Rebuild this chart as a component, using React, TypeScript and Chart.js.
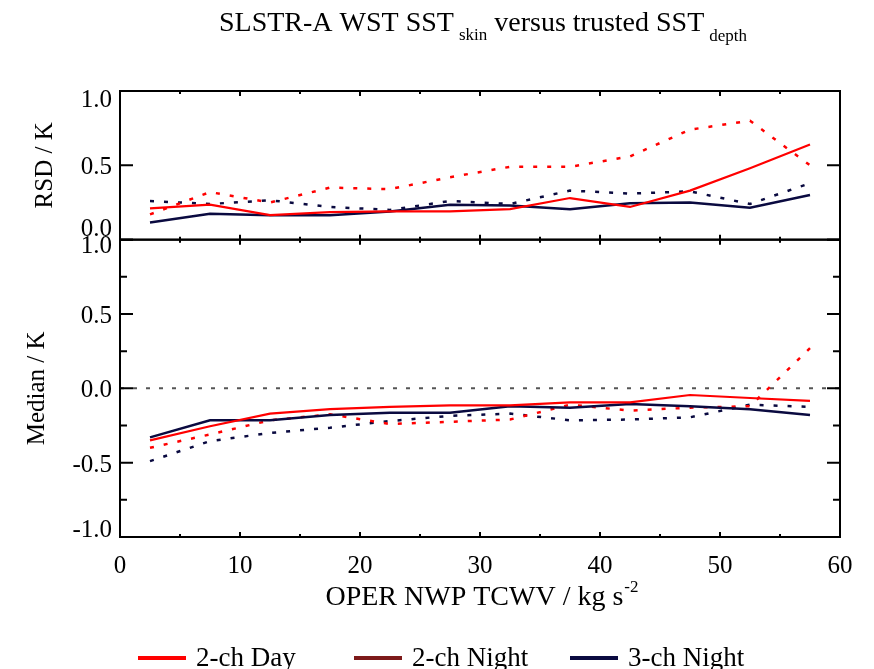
import React, { useEffect, useRef } from 'react';
import { Chart, registerables } from 'chart.js';

Chart.register(...registerables);

// ---------- data ----------
const tcwv = [2.5, 7.5, 12.5, 17.5, 22.5, 27.5, 32.5, 37.5, 42.5, 47.5, 52.5, 57.5];

// RSD panel
const rsdDay2 = [0.21, 0.235, 0.165, 0.185, 0.19, 0.19, 0.205, 0.28, 0.22, 0.33, 0.48, 0.64];
const rsdDay2Dotted = [0.17, 0.32, 0.25, 0.35, 0.34, 0.42, 0.49, 0.49, 0.56, 0.74, 0.8, 0.5];
const rsdNight3 = [0.115, 0.175, 0.165, 0.165, 0.19, 0.235, 0.23, 0.205, 0.245, 0.25, 0.215, 0.3];
const rsdNight3Dotted = [0.26, 0.24, 0.265, 0.22, 0.2, 0.26, 0.24, 0.33, 0.31, 0.325, 0.24, 0.38];

// Median panel
const medDay2 = [-0.35, -0.255, -0.17, -0.14, -0.125, -0.115, -0.115, -0.095, -0.095, -0.045, -0.065, -0.085];
const medDay2Dotted = [-0.4, -0.31, -0.215, -0.175, -0.24, -0.225, -0.21, -0.11, -0.15, -0.13, -0.12, 0.27];
const medNight3 = [-0.33, -0.215, -0.215, -0.18, -0.165, -0.165, -0.12, -0.13, -0.105, -0.12, -0.14, -0.18];
const medNight3Dotted = [-0.49, -0.355, -0.3, -0.265, -0.22, -0.185, -0.17, -0.215, -0.21, -0.195, -0.11, -0.125];

const zeroLineX = [0, 60];
const zeroLineY = [0, 0];

const xRange = [0, 60];
const rsdRange = [0, 1];
const medRange = [-1, 1];

const legendLabels = ['2-ch Day', '2-ch Night', '3-ch Night'];

const titleParts = ['SLSTR-A WST SST', 'skin', ' versus trusted SST', 'depth'];
const xTitleParts = ['OPER NWP TCWV / kg s', '-2'];

// ---------- styles ----------
const FONT = "'Liberation Serif', 'Times New Roman', serif";
const RED = '#ff0000';
const DARKRED = '#7d1a1a';
const NAVY = '#0a0a40';
const DOT = [4, 10];

const pts = (xs: number[], ys: number[]) => xs.map((x, i) => ({ x, y: ys[i] }));

// IDL-style nudges of the end tick labels (min, max) per panel
const labelNudge: Record<string, number[]> = { yTop: [-10, 9], yBot: [-7, 7] };

const framePlugin = {
  id: 'frameTicks',
  afterDatasetsDraw(chart: any) {
    const { ctx, chartArea: ca, scales } = chart;
    const xs = scales.x;
    ctx.save();
    ctx.strokeStyle = '#000';
    ctx.lineWidth = 2;
    ['yTop', 'yBot'].forEach((id) => {
      const ys = scales[id];
      ctx.strokeRect(ca.left, ys.top, ca.right - ca.left, ys.bottom - ys.top);
      ctx.beginPath();
      for (let v = xRange[0]; v <= xRange[1]; v += 5) {
        const px = xs.getPixelForValue(v);
        const len = v % 10 === 0 ? 5 : 3;
        ctx.moveTo(px, ys.top);
        ctx.lineTo(px, ys.top + len);
        ctx.moveTo(px, ys.bottom);
        ctx.lineTo(px, ys.bottom - len);
      }
      const step = id === 'yBot' ? 0.25 : 0.5;
      for (let v = ys.min; v <= ys.max + 1e-9; v += step) {
        const py = ys.getPixelForValue(v);
        const major = Math.abs(v / 0.5 - Math.round(v / 0.5)) < 1e-6;
        const len = major ? 13 : 7;
        ctx.moveTo(ca.left, py);
        ctx.lineTo(ca.left + len, py);
        ctx.moveTo(ca.right, py);
        ctx.lineTo(ca.right - len, py);
      }
      ctx.stroke();

      // y tick labels (end labels nudged inward, as in the original)
      ctx.fillStyle = '#000';
      ctx.font = `25px ${FONT}`;
      ctx.textAlign = 'right';
      ctx.textBaseline = 'middle';
      const ticks = ys.ticks;
      ticks.forEach((t: any, i: number) => {
        let off = 2.5;
        if (i === 0) off = labelNudge[id][0];
        if (i === ticks.length - 1) off = labelNudge[id][1];
        const py = ys.getPixelForValue(t.value) + off;
        ctx.fillText(Number(t.value).toFixed(1), ca.left - 8, py);
      });
    });
    ctx.restore();
  },
  afterDraw(chart: any) {
    const { ctx, chartArea: ca, data } = chart;
    const cx = (ca.left + ca.right) / 2;
    ctx.save();
    ctx.fillStyle = '#000';
    ctx.textBaseline = 'alphabetic';
    ctx.textAlign = 'left';

    // Title with subscripts
    const big = `28px ${FONT}`;
    const small = `17px ${FONT}`;
    ctx.font = big;
    const w0 = ctx.measureText(titleParts[0]).width;
    const w2 = ctx.measureText(titleParts[2]).width;
    ctx.font = small;
    const w1 = ctx.measureText(titleParts[1]).width;
    const w3 = ctx.measureText(titleParts[3]).width;
    const gap = 5;
    const total = w0 + gap + w1 + w2 + gap + w3;
    let tx = cx + 3 - total / 2;
    ctx.font = big;
    ctx.fillText(titleParts[0], tx, 31);
    tx += w0 + gap;
    ctx.font = small;
    ctx.fillText(titleParts[1], tx, 40);
    tx += w1;
    ctx.font = big;
    ctx.fillText(titleParts[2], tx, 31);
    tx += w2 + gap;
    ctx.font = small;
    ctx.fillText(titleParts[3], tx, 41);

    // X axis title with superscript
    const xf = `28px ${FONT}`;
    const xs2 = `17px ${FONT}`;
    ctx.font = xf;
    const a = ctx.measureText(xTitleParts[0]).width;
    ctx.font = xs2;
    const b = ctx.measureText(xTitleParts[1]).width;
    const xx = cx + 2 - (a + 1 + b) / 2;
    ctx.font = xf;
    ctx.fillText(xTitleParts[0], xx, 605);
    ctx.font = xs2;
    ctx.fillText(xTitleParts[1], xx + a + 1, 592);

    // Legend
    const legendDs = data.datasets.filter((d: any) => d.inLegend);
    const x0 = 138;
    const stride = 216;
    legendDs.forEach((d: any, i: number) => {
      const lx = x0 + i * stride;
      ctx.fillStyle = d.borderColor;
      ctx.fillRect(lx, 656, 48, 4);
      ctx.fillStyle = '#000';
      ctx.font = `27px ${FONT}`;
      ctx.fillText(d.label, lx + 58, 666);
    });
    ctx.restore();
  },
};

const tickFont = { family: FONT, size: 25 };

export default function App() {
  const ref = useRef<HTMLCanvasElement | null>(null);

  useEffect(() => {
    if (!ref.current) return;
    const solid = (label: string, color: string, width: number, xs: number[], ys: number[], axis: string, inLegend: boolean) => ({
      label,
      data: pts(xs, ys),
      borderColor: color,
      backgroundColor: color,
      borderWidth: width,
      yAxisID: axis,
      inLegend,
    });
    const dotted = (label: string, color: string, xs: number[], ys: number[], axis: string) => ({
      label,
      data: pts(xs, ys),
      borderColor: color,
      backgroundColor: color,
      borderWidth: 2.5,
      borderDash: DOT,
      yAxisID: axis,
      inLegend: false,
    });

    const chart = new Chart(ref.current, {
      type: 'line',
      data: {
        datasets: [
          solid(legendLabels[0], RED, 2.2, tcwv, rsdDay2, 'yTop', true),
          solid(legendLabels[1], DARKRED, 2.2, [], [], 'yTop', true),
          solid(legendLabels[2], NAVY, 2.5, tcwv, rsdNight3, 'yTop', true),
          solid(legendLabels[0] + ' median', RED, 2.2, tcwv, medDay2, 'yBot', false),
          solid(legendLabels[2] + ' median', NAVY, 2.5, tcwv, medNight3, 'yBot', false),
          dotted(legendLabels[0] + ' (dotted)', RED, tcwv, rsdDay2Dotted, 'yTop'),
          dotted(legendLabels[2] + ' (dotted)', NAVY, tcwv, rsdNight3Dotted, 'yTop'),
          dotted(legendLabels[0] + ' median (dotted)', RED, tcwv, medDay2Dotted, 'yBot'),
          dotted(legendLabels[2] + ' median (dotted)', NAVY, tcwv, medNight3Dotted, 'yBot'),
          {
            label: 'zero',
            data: pts(zeroLineX, zeroLineY),
            borderColor: '#555555',
            borderWidth: 2,
            borderDash: [4, 9],
            yAxisID: 'yBot',
            inLegend: false,
          } as any,
        ] as any,
      },
      options: {
        responsive: false,
        animation: false,
        layout: { padding: { left: 0, right: 34, top: 91, bottom: 0 } },
        elements: { point: { radius: 0 }, line: { tension: 0 } },
        plugins: { legend: { display: false }, tooltip: { enabled: false }, title: { display: false } },
        scales: {
          x: {
            type: 'linear',
            min: xRange[0],
            max: xRange[1],
            grid: { display: false, drawTicks: false },
            border: { display: false },
            ticks: { stepSize: 10, padding: 14, font: tickFont, color: '#000', maxRotation: 0, autoSkip: false },
            afterFit: (s: any) => {
              s.height = 132;
            },
          },
          yBot: {
            type: 'linear',
            position: 'left',
            stack: 'panels',
            stackWeight: 2,
            min: medRange[0],
            max: medRange[1],
            grid: { display: false, drawTicks: false },
            border: { display: false },
            ticks: { stepSize: 0.5, display: false },
            title: { display: true, text: 'Median / K', font: tickFont, color: '#000', padding: { top: 22, bottom: 0 } },
            afterFit: (s: any) => {
              s.width = 120;
            },
          },
          yTop: {
            type: 'linear',
            position: 'left',
            stack: 'panels',
            stackWeight: 1,
            min: rsdRange[0],
            max: rsdRange[1],
            grid: { display: false, drawTicks: false },
            border: { display: false },
            ticks: { stepSize: 0.5, display: false },
            title: { display: true, text: 'RSD / K', font: tickFont, color: '#000', padding: { top: 30, bottom: 0 } },
            afterFit: (s: any) => {
              s.width = 120;
            },
          },
        },
      } as any,
      plugins: [framePlugin],
    });
    return () => chart.destroy();
  }, []);

  return (
    <div style={{ position: 'fixed', left: 0, top: 0, width: 874, height: 669, background: '#fff' }}>
      <canvas ref={ref} width={874} height={669} />
    </div>
  );
}
